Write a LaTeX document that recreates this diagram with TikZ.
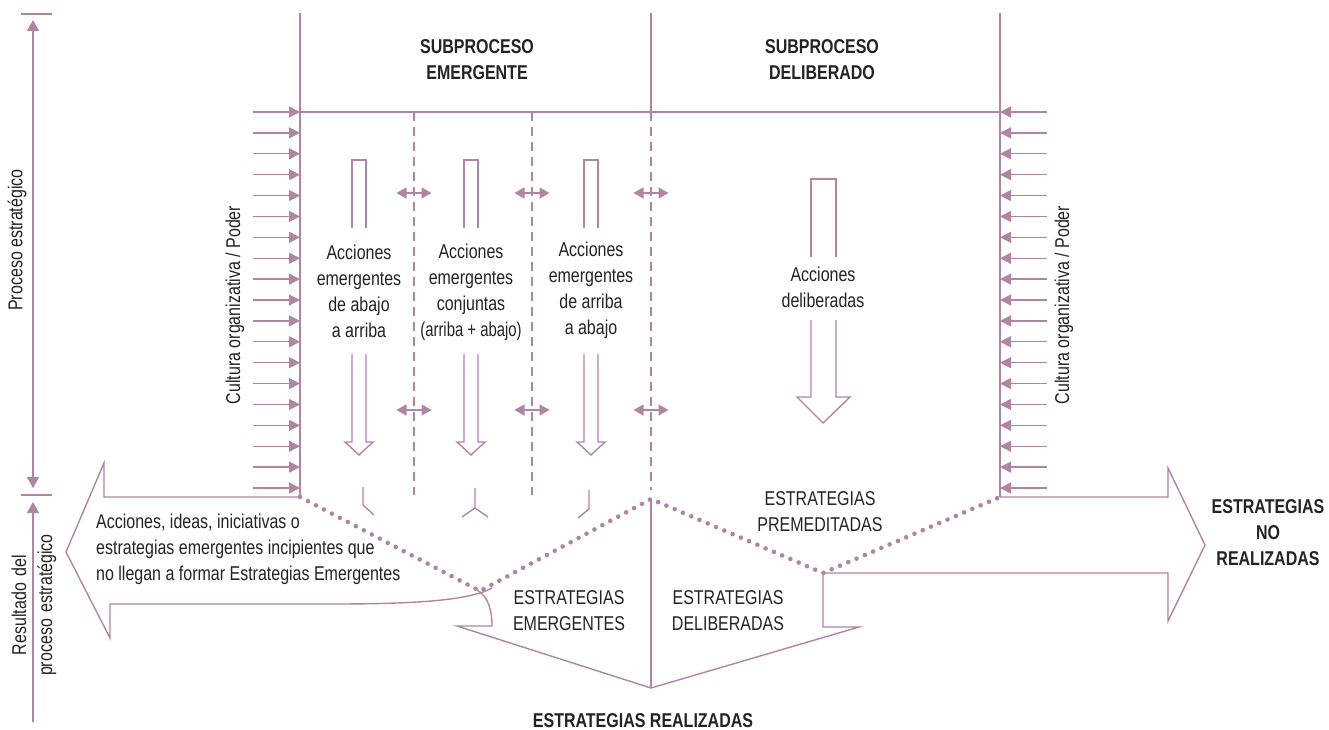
\documentclass[tikz,border=0pt]{standalone}
\usepackage{fontspec}
\setmainfont{Liberation Sans}[FakeStretch=0.8]
\usetikzlibrary{arrows.meta}
\definecolor{mauve}{RGB}{176,133,161}
\definecolor{txt}{RGB}{35,35,35}
\begin{document}
\begin{tikzpicture}[x=1pt,y=-1pt,
  ln/.style={draw=mauve,line width=1.4pt,line join=miter},
  dsh/.style={draw=mauve,line width=1.4pt,dash pattern=on 9pt off 6pt},
  dotl/.style={draw=mauve,line width=4.6pt,line cap=round,dash pattern=on 0pt off 9pt},
  rtip/.style={-{Triangle[length=11pt,width=11pt]}},
  dtip/.style={{Triangle[length=10pt,width=11pt]}-{Triangle[length=10pt,width=11pt]}},
  atip/.style={{Triangle[length=11pt,width=12pt]}-{Triangle[length=11pt,width=12pt]}},
  utip/.style={{Triangle[length=11pt,width=12pt]}-},
  lbl/.style={text=txt,font=\fontsize{20}{26}\selectfont,align=center,inner sep=0pt},
  ttl/.style={text=txt,font=\fontsize{20}{26}\selectfont\bfseries,align=center,inner sep=0pt},
]
\useasboundingbox (0,0) rectangle (1329,730);

% ---- left axis
\coordinate (axT1) at (21,14); \coordinate (axT2) at (52,14);
\coordinate (axM1) at (21,495); \coordinate (axM2) at (52,495);
\coordinate (axA) at (33,20); \coordinate (axB) at (33,488);
\coordinate (axC) at (33,502); \coordinate (axD) at (33,722);
\draw[ln] (axT1) -- (axT2);
\draw[ln] (axM1) -- (axM2);
\draw[ln,atip] (axA) -- (axB);
\draw[ln,utip] (axC) -- (axD);
\node[lbl,rotate=90] (proc) at (17,240) {Proceso estratégico};
\node[lbl,rotate=90,text width=160pt] (res) at (34,605) {Resultado del\\proceso estratégico};

% ---- culture arrows
\foreach \i in {0,...,18}{
  \draw[ln,rtip] (253,{112+\i*20.89}) -- (300,{112+\i*20.89});
  \draw[ln,rtip] (1047,{112+\i*20.89}) -- (1000,{112+\i*20.89});
}
\node[lbl,rotate=90] (cultL) at (235,305) {Cultura organizativa / Poder};
\node[lbl,rotate=90] (cultR) at (1064,305) {Cultura organizativa / Poder};

% ---- frame
\draw[ln] (300,13) -- (300,497);
\draw[ln] (651,13) -- (651,112);
\draw[ln] (1000,13) -- (1000,497);
\draw[ln] (300,112) -- (1000,112);
\draw[dsh] (414,112) -- (414,495);
\draw[dsh] (532,112) -- (532,495);
\draw[dsh] (651,112) -- (651,490);

\node[ttl] (subE) at (477,60) {SUBPROCESO\\EMERGENTE};
\node[ttl] (subD) at (822,60) {SUBPROCESO\\DELIBERADO};

% ---- small double arrows
\foreach \x in {414,532,651}{
  \foreach \y in {193,410}{
    \draw[ln,dtip] (\x-17.5,\y) -- (\x+17.5,\y);
  }
}

% ---- hollow block arrows (emergent)
\foreach \c in {359,471,591}{
  \draw[ln] (\c-7,228) -- (\c-7,160) -- (\c+7,160) -- (\c+7,228);
  \draw[ln] (\c-7,354) -- (\c-7,442) -- (\c-14,442) -- (\c,455) -- (\c+14,442) -- (\c+7,442) -- (\c+7,354);
}
\node[lbl] (a1) at (359,291) {Acciones\\emergentes\\de abajo\\a arriba};
\node[lbl] (a2) at (471,292) {Acciones\\emergentes\\conjuntas\\\scalebox{0.93}[1]{(arriba + abajo)}};
\node[lbl] (a3) at (591,290) {Acciones\\emergentes\\de arriba\\a abajo};

% ---- deliberate arrow
\draw[ln] (811,257) -- (811,179) -- (836,179) -- (836,257);
\draw[ln] (811,320) -- (811,397) -- (797,397) -- (823,423) -- (850,397) -- (836,397) -- (836,320);
\node[lbl] (a4) at (823,287) {Acciones\\deliberadas};

% ---- glyphs below
\draw[ln] (363,487) -- (363,505) -- (374,515);
\draw[ln] (475,488) -- (475,508) -- (462,517);
\draw[ln] (475,508) -- (488,517);
\draw[ln] (589,490) -- (589,509) -- (578,518);

% ---- outcome arrows
\draw[ln] (492,588) .. controls (470,600) and (420,604) .. (333,604) -- (110,604) -- (110,638) -- (66,552) -- (104,463) -- (104,497) -- (300,497);
\draw[ln] (1000,497) -- (1168,497) -- (1168,468) -- (1205,545) -- (1168,621) -- (1168,573) -- (823,573) -- (823,627) -- (859,627) -- (651,688) -- (457,626) -- (492,626) .. controls (492,610) and (488,596) .. (477,590);
\draw[ln] (651,499) -- (651,688);

% ---- dotted
\draw[dotl] (300,497) -- (480,591) -- (651,499) -- (823,573) -- (1000,497);

% ---- texts
\node[lbl,align=left,anchor=north west] (acc) at (96,514) {Acciones, ideas, iniciativas o\\estrategias emergentes incipientes que\\no llegan a formar Estrategias Emergentes};
\node[lbl] (eE) at (569,611) {ESTRATEGIAS\\EMERGENTES};
\node[lbl] (eD) at (728,611) {ESTRATEGIAS\\DELIBERADAS};
\node[lbl] (eP) at (820,512) {ESTRATEGIAS\\PREMEDITADAS};
\node[ttl] (eR) at (643,721) {ESTRATEGIAS REALIZADAS};
\node[ttl] (eN) at (1268,533) {ESTRATEGIAS\\NO\\REALIZADAS};
\end{tikzpicture}
\end{document}
